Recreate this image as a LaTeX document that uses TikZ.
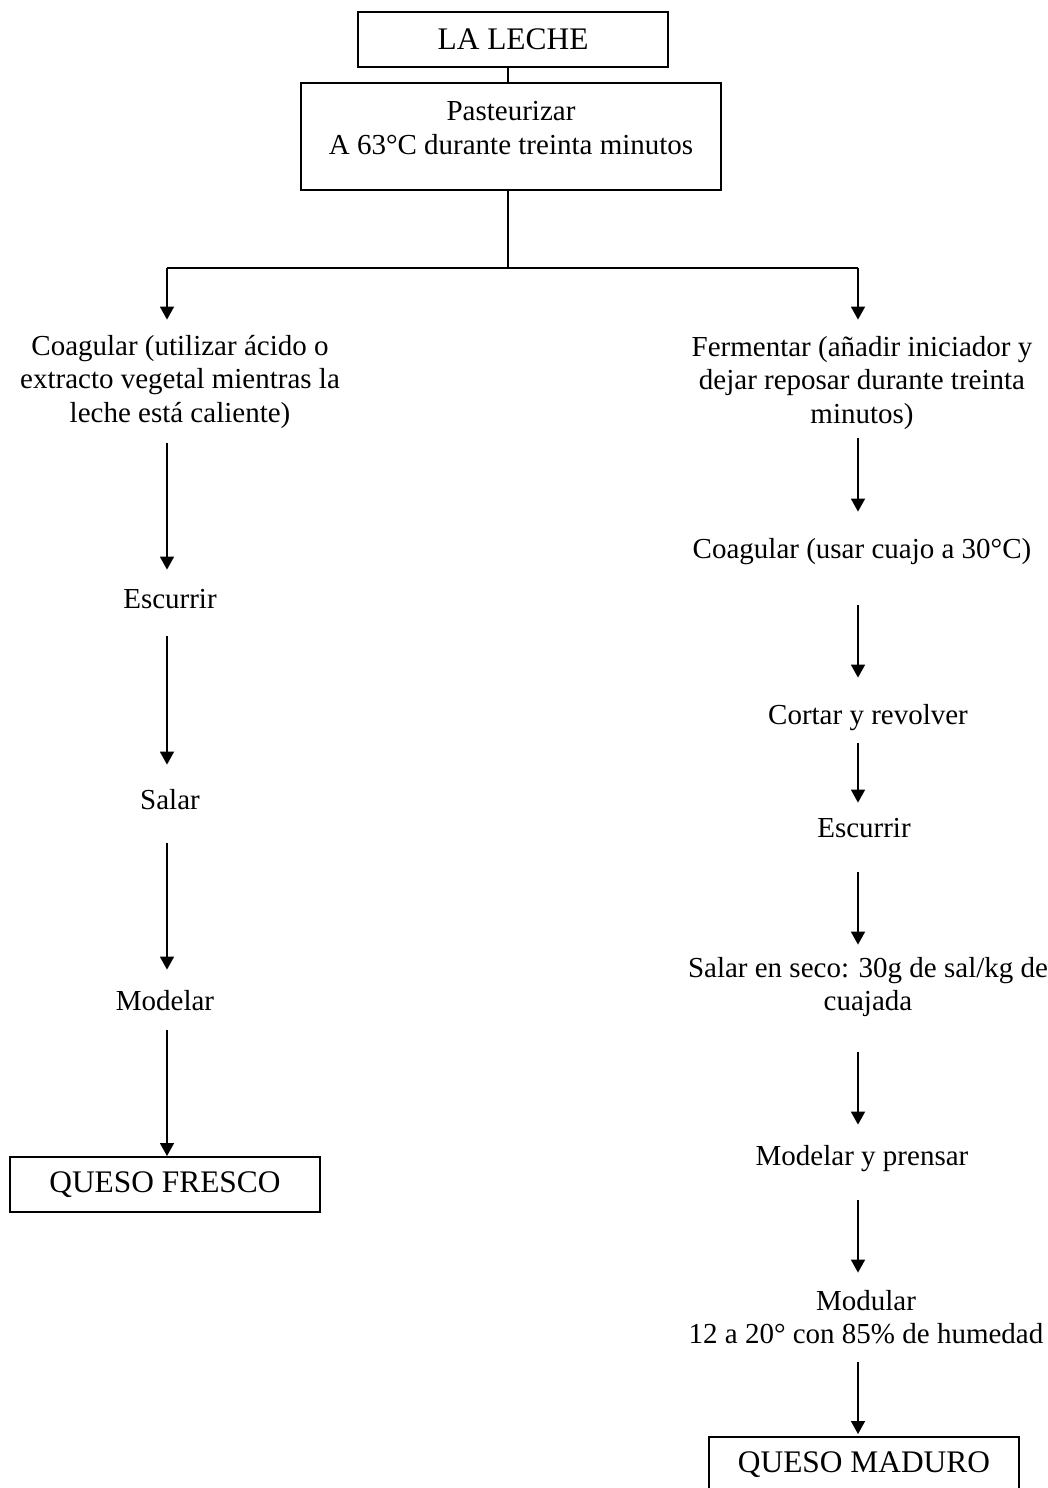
\documentclass[tikz,border=0pt]{standalone}
\usepackage{fontspec}
\setmainfont{Liberation Serif}
\usetikzlibrary{arrows.meta}
\begin{document}
\begin{tikzpicture}[x=0.5pt,y=-0.5pt,
  every node/.style={font=\fontsize{14.5pt}{16.75pt}\selectfont},
  box/.style={draw, line width=1pt, inner sep=0pt, minimum width=155pt, minimum height=27.5pt,
    font=\fontsize{15.7pt}{18pt}\selectfont},
  txt/.style={align=center, inner sep=0pt},
  link/.style={line width=0.8pt},
  arr/.style={line width=0.8pt, -{Triangle[width=7pt,length=6.5pt]}}]
\useasboundingbox (0,0) rectangle (1048,1488);

% head of the chart
\node[box] (leche) at (513,39) {LA LECHE};
\node[box, minimum width=210pt, minimum height=53.5pt, align=center, inner ysep=7.25pt,
  font=\fontsize{14.5pt}{16.75pt}\selectfont]
  (past) at (511,136.5) {\strut Pasteurizar\\A 63°C durante treinta minutos\rule[-10.55pt]{0pt}{10.55pt}};

% fork into the two branches
\coordinate (fork) at (508,268);
\coordinate (forkL) at (167,268);
\coordinate (forkR) at (858,268);

% fresh cheese branch
\node[txt] (coagL) at (180,382) {\strut Coagular (utilizar ácido o\\extracto vegetal mientras la\\leche está caliente)\strut};
\node[txt] (escL) at (170,602) {\strut Escurrir};
\node[txt] (salL) at (170,803) {\strut Salar};
\node[txt] (modL) at (165,1004) {\strut Modelar};
\node[box] (fresco) at (165,1184.5) {QUESO FRESCO};

% ripened cheese branch
\node[txt] (ferm) at (862,383) {\strut Fermentar (añadir iniciador y\\dejar reposar durante treinta\\minutos)\strut};
\node[txt] (coagR) at (862,552) {\strut Coagular (usar cuajo a 30°C)};
\node[txt] (cortar) at (868,718) {\strut Cortar y revolver};
\node[txt] (escR) at (864,831) {\strut Escurrir};
\node[txt] (salR) at (868,987.5) {\strut Salar en seco: 30g de sal/kg de\\cuajada\strut};
\node[txt] (modR) at (862,1159) {\strut Modelar y prensar};
\node[txt] (modu) at (866,1320.5) {\strut Modular\\12 a 20° con 85\% de humedad\strut};
\node[box] (maduro) at (864,1464.5) {QUESO MADURO};

% connectors at the top
\draw[link] (leche.south -| fork) -- (past.north -| fork);
\draw[link] (past.south -| fork) -- (fork);
\draw[link] (forkL) -- (forkR);
\draw[arr, shorten >=5.875pt] (forkL) -- (forkL |- coagL.north);
\draw[arr, shorten >=6.375pt] (forkR) -- (forkR |- ferm.north);

% left column arrows
\draw[arr, shorten <=5.375pt, shorten >=7.625pt] (forkL |- coagL.south) -- (forkL |- escL.north);
\draw[arr, shorten <=8.625pt, shorten >=10.625pt] (forkL |- escL.south) -- (forkL |- salL.north);
\draw[arr, shorten <=11.625pt, shorten >=8.625pt] (forkL |- salL.south) -- (forkL |- modL.north);
\draw[arr, shorten <=4.625pt] (forkL |- modL.south) -- (forkL |- fresco.north);

% right column arrows
\draw[arr, shorten <=2.375pt, shorten >=11.625pt] (forkR |- ferm.south) -- (forkR |- coagR.north);
\draw[arr, shorten <=18.125pt, shorten >=11.625pt] (forkR |- coagR.south) -- (forkR |- cortar.north);
\draw[arr, shorten <=4.125pt, shorten >=5.625pt] (forkR |- cortar.south) -- (forkR |- escR.north);
\draw[arr, shorten <=12.125pt, shorten >=4.5pt] (forkR |- escR.south) -- (forkR |- salR.north);
\draw[arr, shorten <=15.5pt, shorten >=8.625pt] (forkR |- salR.south) -- (forkR |- modR.north);
\draw[arr, shorten <=12.125pt, shorten >=7pt] (forkR |- modR.south) -- (forkR |- modu.north);
\draw[arr, shorten <=4pt, shorten >=1pt] (forkR |- modu.south) -- (forkR |- maduro.north);
\end{tikzpicture}
\end{document}
